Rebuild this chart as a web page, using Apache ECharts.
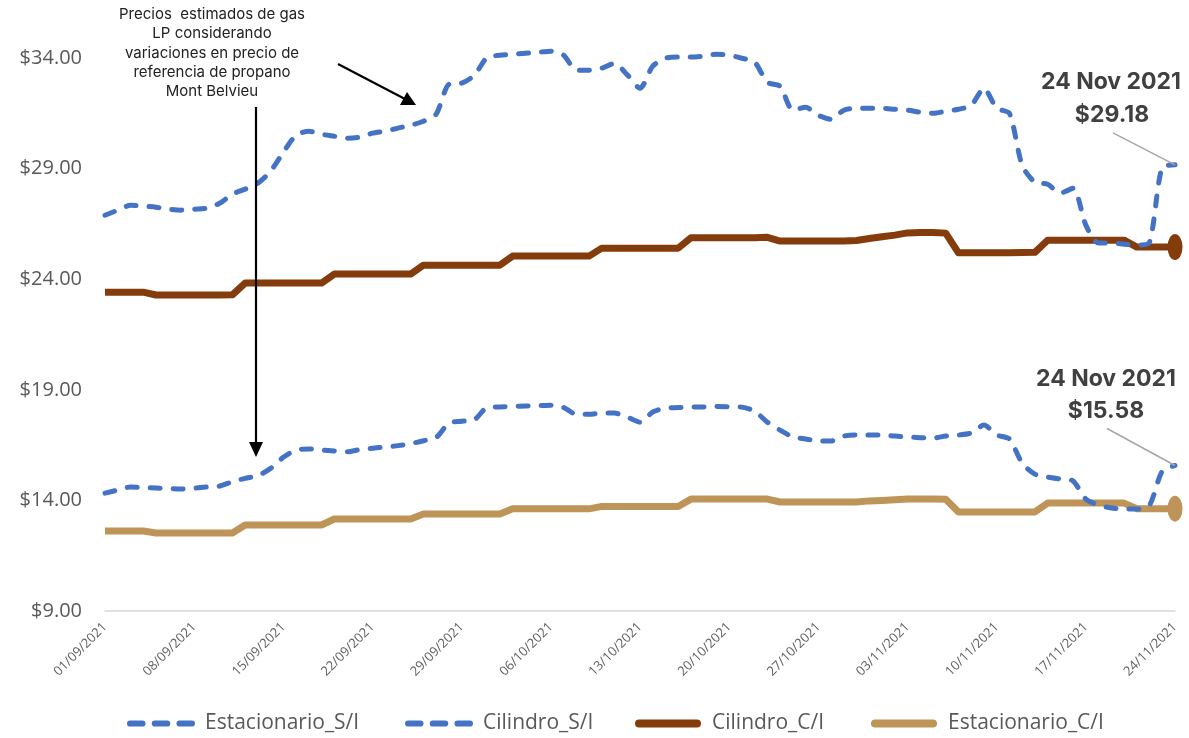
<!DOCTYPE html>
<html>
<head>
<meta charset="utf-8">
<script src="https://cdn.jsdelivr.net/npm/echarts@6/dist/echarts.min.js"></script>
<style>
  html, body { margin: 0; padding: 0; background: #ffffff; }
  #chart { width: 1189px; height: 738px; }
</style>
</head>
<body>
<div id="chart"></div>
<script>
// ---- data ----
const dates = [
  '01/09/2021','02/09/2021','03/09/2021','04/09/2021','05/09/2021','06/09/2021','07/09/2021',
  '08/09/2021','09/09/2021','10/09/2021','11/09/2021','12/09/2021','13/09/2021','14/09/2021',
  '15/09/2021','16/09/2021','17/09/2021','18/09/2021','19/09/2021','20/09/2021','21/09/2021',
  '22/09/2021','23/09/2021','24/09/2021','25/09/2021','26/09/2021','27/09/2021','28/09/2021',
  '29/09/2021','30/09/2021','01/10/2021','02/10/2021','03/10/2021','04/10/2021','05/10/2021',
  '06/10/2021','07/10/2021','08/10/2021','09/10/2021','10/10/2021','11/10/2021','12/10/2021',
  '13/10/2021','14/10/2021','15/10/2021','16/10/2021','17/10/2021','18/10/2021','19/10/2021',
  '20/10/2021','21/10/2021','22/10/2021','23/10/2021','24/10/2021','25/10/2021','26/10/2021',
  '27/10/2021','28/10/2021','29/10/2021','30/10/2021','31/10/2021','01/11/2021','02/11/2021',
  '03/11/2021','04/11/2021','05/11/2021','06/11/2021','07/11/2021','08/11/2021','09/11/2021',
  '10/11/2021','11/11/2021','12/11/2021','13/11/2021','14/11/2021','15/11/2021','16/11/2021',
  '17/11/2021','18/11/2021','19/11/2021','20/11/2021','21/11/2021','22/11/2021','23/11/2021',
  '24/11/2021'
];

// Cilindro sin IVA (upper dashed blue)
const cilindroSI = [
  26.90, 27.13, 27.35, 27.31, 27.26, 27.17, 27.13, 27.17, 27.22, 27.44,
  27.85, 28.08, 28.35, 28.89, 29.75, 30.52, 30.70, 30.56, 30.47, 30.38,
  30.43, 30.61, 30.70, 30.84, 30.97, 31.15, 31.47, 32.82, 32.87, 33.23,
  34.04, 34.13, 34.18, 34.22, 34.27, 34.32, 34.14, 33.46, 33.46, 33.55,
  33.77, 33.25, 32.64, 33.64, 34.00, 34.05, 34.05, 34.09, 34.18, 34.14,
  34.00, 33.82, 32.91, 32.73, 31.65, 31.78, 31.42, 31.24, 31.65, 31.74,
  31.74, 31.74, 31.69, 31.65, 31.56, 31.51, 31.60, 31.69, 31.87, 32.64,
  31.74, 31.51, 29.16, 28.39, 28.30, 27.90, 28.12, 26.45, 25.64, 25.64,
  25.59, 25.55, 25.68, 29.07, 29.18
];

// Estacionario sin IVA (lower dashed blue)
const estacionarioSI = [
  14.33, 14.47, 14.61, 14.58, 14.56, 14.54, 14.52, 14.56, 14.61, 14.65,
  14.85, 15.00, 15.12, 15.45, 15.95, 16.28, 16.33, 16.28, 16.24, 16.20,
  16.30, 16.36, 16.42, 16.48, 16.57, 16.70, 16.85, 17.50, 17.58, 17.65,
  18.20, 18.23, 18.25, 18.27, 18.29, 18.31, 18.20, 17.90, 17.90, 17.95,
  17.95, 17.77, 17.54, 18.00, 18.18, 18.20, 18.22, 18.23, 18.25, 18.24,
  18.22, 18.04, 17.54, 17.18, 16.87, 16.78, 16.69, 16.69, 16.91, 16.96,
  16.96, 16.96, 16.91, 16.87, 16.84, 16.82, 16.91, 16.96, 17.05, 17.41,
  16.96, 16.78, 15.69, 15.19, 15.06, 14.97, 14.88, 14.06, 13.79, 13.66,
  13.61, 13.61, 13.79, 15.33, 15.58
];

// Cilindro con IVA (brown)
const cilindroCI = [
  23.42, 23.42, 23.42, 23.42, 23.29, 23.29, 23.29, 23.29, 23.29, 23.29,
  23.30, 23.83, 23.83, 23.83, 23.83, 23.83, 23.83, 23.83, 24.24, 24.24,
  24.24, 24.24, 24.24, 24.24, 24.24, 24.64, 24.64, 24.64, 24.64, 24.64,
  24.64, 24.64, 25.05, 25.05, 25.05, 25.05, 25.05, 25.05, 25.05, 25.41,
  25.41, 25.41, 25.41, 25.41, 25.41, 25.41, 25.88, 25.88, 25.88, 25.88,
  25.88, 25.88, 25.90, 25.73, 25.73, 25.73, 25.73, 25.73, 25.73, 25.76,
  25.85, 25.93, 26.00, 26.10, 26.12, 26.12, 26.09, 25.20, 25.20, 25.20,
  25.20, 25.20, 25.21, 25.22, 25.77, 25.77, 25.77, 25.77, 25.77, 25.77,
  25.77, 25.46, 25.46, 25.46, 25.46
];

// Estacionario con IVA (tan)
const estacionarioCI = [
  12.62, 12.62, 12.62, 12.62, 12.53, 12.53, 12.53, 12.53, 12.53, 12.53,
  12.53, 12.89, 12.89, 12.89, 12.89, 12.89, 12.89, 12.89, 13.16, 13.16,
  13.16, 13.16, 13.16, 13.16, 13.16, 13.39, 13.39, 13.39, 13.39, 13.39,
  13.39, 13.39, 13.62, 13.62, 13.62, 13.62, 13.62, 13.62, 13.62, 13.73,
  13.73, 13.73, 13.73, 13.73, 13.73, 13.73, 14.06, 14.06, 14.06, 14.06,
  14.06, 14.06, 14.06, 13.93, 13.93, 13.93, 13.93, 13.93, 13.93, 13.93,
  13.98, 14.00, 14.03, 14.06, 14.06, 14.06, 14.05, 13.48, 13.48, 13.48,
  13.48, 13.48, 13.48, 13.48, 13.88, 13.88, 13.88, 13.88, 13.88, 13.88,
  13.88, 13.63, 13.63, 13.63, 13.63
];

const yTicks = { min: 9, max: 36, step: 5 };
const legendNames = ['Estacionario_S/I', 'Cilindro_S/I', 'Cilindro_C/I', 'Estacionario_C/I'];
const noteText = 'Precios  estimados de gas\nLP considerando\nvariaciones en precio de\nreferencia de propano\nMont Belvieu';
const endDateText = '24 Nov 2021';

// ---- styles ----
const BLUE = '#4472C4', BROWN = '#843C0C', TAN = '#BF9458';
const dashIcon = 'path://M3,0h12a3,3 0 0 1 0,6h-12a3,3 0 0 1 0,-6z M27,0h12a3,3 0 0 1 0,6h-12a3,3 0 0 1 0,-6z M51,0h12a3,3 0 0 1 0,6h-12a3,3 0 0 1 0,-6z';
const solidIcon = 'path://M4,0h58a4,4 0 0 1 0,8h-58a4,4 0 0 1 0,-8z';
const legendIcons = [dashIcon, dashIcon, solidIcon, solidIcon];
const legendLefts = [122, 400, 630, 866];

function withEndMarker(arr, size) {
  return arr.map((v, i) => i === arr.length - 1
    ? { value: v, symbol: 'circle', symbolSize: size }
    : v);
}

const dashedStyle = { color: BLUE, width: 5, type: [10, 13], cap: 'round', join: 'round' };

const chart = echarts.init(document.getElementById('chart'), null, { renderer: 'canvas' });

const option = {
  backgroundColor: '#ffffff',
  animation: false,
  grid: { left: 105, right: 14, top: 14, bottom: 127, containLabel: false },
  legend: legendNames.map((n, i) => ({
    left: legendLefts[i], top: 708,
    itemWidth: 68, itemHeight: 8,
    textStyle: { fontSize: 21, color: '#595959', fontFamily: 'Open Sans', padding: [0, 0, 0, 5] },
    data: [{ name: n, icon: legendIcons[i] }]
  })),
  xAxis: {
    type: 'category',
    data: dates,
    boundaryGap: false,
    axisLine: { lineStyle: { color: '#d9d9d9', width: 1.5 } },
    axisTick: { show: false },
    axisLabel: { interval: 6, rotate: 45, fontSize: 13, color: '#606060', margin: 14, fontFamily: 'Open Sans' },
    splitLine: { show: false }
  },
  yAxis: {
    type: 'value',
    min: yTicks.min, max: yTicks.max, interval: yTicks.step,
    axisLine: { show: false },
    axisTick: { show: false },
    splitLine: { show: false },
    axisLabel: {
      showMaxLabel: false,
      margin: 23, fontSize: 20, color: '#595959', fontFamily: 'Open Sans',
      formatter: v => '$' + v.toFixed(2)
    }
  },
  series: [
    {
      name: 'Cilindro_C/I', type: 'line', data: withEndMarker(cilindroCI, [15, 26]),
      symbol: 'none', showSymbol: true, showAllSymbol: true,
      color: BROWN, itemStyle: { color: BROWN },
      lineStyle: { color: BROWN, width: 7, join: 'round' }
    },
    {
      name: 'Estacionario_C/I', type: 'line', data: withEndMarker(estacionarioCI, [15, 26]),
      symbol: 'none', showSymbol: true, showAllSymbol: true,
      color: TAN, itemStyle: { color: TAN },
      lineStyle: { color: TAN, width: 7, join: 'round' }
    },
    {
      name: 'Estacionario_S/I', type: 'line', data: estacionarioSI,
      symbol: 'none', smooth: 0.25, color: BLUE, itemStyle: { color: BLUE },
      lineStyle: dashedStyle
    },
    {
      name: 'Cilindro_S/I', type: 'line', data: cilindroSI,
      symbol: 'none', smooth: 0.25, color: BLUE, itemStyle: { color: BLUE },
      lineStyle: dashedStyle
    }
  ]
};
chart.setOption(option);

// ---- annotations, placed from the data's own pixel positions ----
const last = dates.length - 1;
const pU = chart.convertToPixel({ xAxisIndex: 0, yAxisIndex: 0 }, [last, cilindroSI[last]]);
const pL = chart.convertToPixel({ xAxisIndex: 0, yAxisIndex: 0 }, [last, estacionarioSI[last]]);

const boldFont = { fontFamily: 'Inter', fontWeight: 'bold', fontSize: 23, fill: '#404040', align: 'center', verticalAlign: 'middle' };

chart.setOption({
  graphic: [
    // note text
    { type: 'text', z: 10, x: 212, y: 5,
      style: { text: noteText, fontFamily: 'Inter', fontSize: 15, lineHeight: 19.3, fill: '#222222', align: 'center' } },
    // diagonal arrow
    { type: 'line', z: 10, shape: { x1: 338, y1: 64, x2: 405, y2: 99 }, style: { stroke: '#000', lineWidth: 2.2 } },
    { type: 'polygon', z: 10, shape: { points: [[416, 105], [407, 92], [400, 105]] }, style: { fill: '#000' } },
    // vertical arrow
    { type: 'line', z: 10, shape: { x1: 256, y1: 107, x2: 256, y2: 444 }, style: { stroke: '#000', lineWidth: 2.2 } },
    { type: 'polygon', z: 10, shape: { points: [[256, 457], [249, 442], [263, 442]] }, style: { fill: '#000' } },
    // upper end label
    { type: 'line', z: 10, shape: { x1: pU[0], y1: pU[1], x2: pU[0] - 62, y2: pU[1] - 32 }, style: { stroke: '#a6a6a6', lineWidth: 1.5 } },
    { type: 'text', z: 10, x: pU[0] - 64, y: pU[1] - 83, style: Object.assign({ text: endDateText }, boldFont) },
    { type: 'text', z: 10, x: pU[0] - 63, y: pU[1] - 50, style: Object.assign({ text: '$' + cilindroSI[last].toFixed(2) }, boldFont) },
    // lower end label
    { type: 'line', z: 10, shape: { x1: pL[0], y1: pL[1], x2: pL[0] - 68, y2: pL[1] - 37 }, style: { stroke: '#a6a6a6', lineWidth: 1.5 } },
    { type: 'text', z: 10, x: pL[0] - 69, y: pL[1] - 86, style: Object.assign({ text: endDateText }, boldFont) },
    { type: 'text', z: 10, x: pL[0] - 69, y: pL[1] - 54, style: Object.assign({ text: '$' + estacionarioSI[last].toFixed(2) }, boldFont) }
  ]
});
</script>
</body>
</html>
